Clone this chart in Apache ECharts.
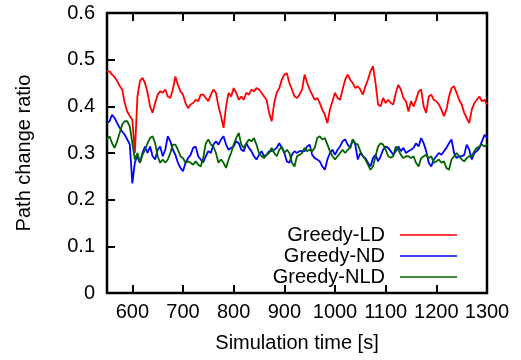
<!DOCTYPE html>
<html>
<head>
<meta charset="utf-8">
<script src="https://cdn.jsdelivr.net/npm/echarts@6/dist/echarts.min.js"></script>
<style>
html,body{margin:0;padding:0;background:#fff;}
#chart{width:521px;height:360px;}
</style>
</head>
<body>
<div id="chart"></div>
<script>
// Sample times (s), every 5 s
var times = [
 550,555,560,565,570,575,580,585,590,595,
 600,605,610,615,620,625,630,635,640,645,
 650,655,660,665,670,675,680,685,690,695,
 700,705,710,715,720,725,730,735,740,745,
 750,755,760,765,770,775,780,785,790,795,
 800,805,810,815,820,825,830,835,840,845,
 850,855,860,865,870,875,880,885,890,895,
 900,905,910,915,920,925,930,935,940,945,
 950,955,960,965,970,975,980,985,990,995,
 1000,1005,1010,1015,1020,1025,1030,1035,1040,1045,
 1050,1055,1060,1065,1070,1075,1080,1085,1090,1095,
 1100,1105,1110,1115,1120,1125,1130,1135,1140,1145,
 1150,1155,1160,1165,1170,1175,1180,1185,1190,1195,
 1200,1205,1210,1215,1220,1225,1230,1235,1240,1245,
 1250,1255,1260,1265,1270,1275,1280,1285,1290,1295,
 1300];

var greedyLD = [
 0.475,0.475,0.468,0.463,0.454,0.444,0.436,0.407,0.389,0.379,
 0.371,0.300,0.420,0.454,0.461,0.450,0.429,0.400,0.386,0.407,
 0.425,0.432,0.429,0.436,0.421,0.418,0.436,0.464,0.446,0.432,
 0.425,0.407,0.396,0.404,0.407,0.414,0.411,0.425,0.425,0.418,
 0.411,0.425,0.436,0.429,0.400,0.379,0.354,0.400,0.429,0.421,
 0.439,0.429,0.414,0.421,0.414,0.429,0.425,0.436,0.432,0.439,
 0.436,0.429,0.421,0.414,0.386,0.368,0.407,0.429,0.439,0.457,
 0.468,0.471,0.450,0.436,0.421,0.418,0.425,0.436,0.468,0.450,
 0.436,0.425,0.414,0.418,0.407,0.393,0.382,0.364,0.393,0.411,
 0.429,0.418,0.414,0.436,0.457,0.468,0.457,0.450,0.439,0.443,
 0.436,0.425,0.443,0.457,0.475,0.486,0.450,0.404,0.400,0.418,
 0.407,0.414,0.407,0.404,0.429,0.446,0.436,0.418,0.411,0.389,
 0.411,0.400,0.414,0.432,0.436,0.400,0.386,0.421,0.425,0.414,
 0.411,0.404,0.393,0.379,0.393,0.421,0.439,0.443,0.429,0.414,
 0.404,0.386,0.375,0.364,0.393,0.407,0.414,0.421,0.411,0.414,
 0.404];

var greedyND = [
 0.364,0.368,0.382,0.375,0.364,0.354,0.346,0.339,0.329,0.318,
 0.235,0.280,0.293,0.279,0.300,0.314,0.300,0.314,0.293,0.286,
 0.307,0.314,0.293,0.307,0.336,0.325,0.307,0.296,0.279,0.268,
 0.261,0.279,0.289,0.296,0.311,0.314,0.293,0.286,0.280,0.293,
 0.304,0.300,0.318,0.325,0.318,0.329,0.336,0.318,0.307,0.311,
 0.314,0.325,0.321,0.307,0.304,0.321,0.311,0.304,0.293,0.286,
 0.296,0.304,0.293,0.296,0.304,0.304,0.307,0.311,0.321,0.311,
 0.300,0.282,0.279,0.296,0.304,0.300,0.304,0.304,0.304,0.314,
 0.318,0.296,0.289,0.286,0.282,0.271,0.264,0.286,0.300,0.307,
 0.296,0.307,0.314,0.325,0.329,0.318,0.311,0.329,0.318,0.286,
 0.300,0.293,0.289,0.279,0.271,0.289,0.296,0.282,0.293,0.307,
 0.314,0.311,0.304,0.296,0.304,0.314,0.304,0.311,0.300,0.304,
 0.307,0.311,0.321,0.314,0.332,0.321,0.304,0.279,0.271,0.286,
 0.293,0.300,0.296,0.304,0.311,0.321,0.329,0.300,0.289,0.293,
 0.293,0.296,0.318,0.307,0.286,0.300,0.304,0.311,0.325,0.339,
 0.332];

var greedyNLD = [
 0.329,0.336,0.321,0.311,0.325,0.343,0.361,0.368,0.368,0.357,
 0.321,0.286,0.300,0.279,0.296,0.307,0.321,0.332,0.336,0.321,
 0.293,0.279,0.286,0.279,0.286,0.300,0.318,0.318,0.307,0.293,
 0.289,0.279,0.282,0.279,0.275,0.282,0.275,0.271,0.290,0.321,
 0.329,0.318,0.314,0.300,0.279,0.286,0.279,0.268,0.286,0.300,
 0.318,0.332,0.343,0.318,0.311,0.321,0.329,0.325,0.332,0.318,
 0.300,0.293,0.289,0.296,0.300,0.311,0.300,0.293,0.307,0.314,
 0.300,0.307,0.300,0.279,0.271,0.293,0.296,0.300,0.311,0.304,
 0.307,0.304,0.311,0.332,0.336,0.329,0.332,0.318,0.304,0.293,
 0.286,0.293,0.300,0.307,0.300,0.307,0.311,0.329,0.321,0.318,
 0.304,0.293,0.286,0.275,0.264,0.271,0.293,0.314,0.321,0.318,
 0.307,0.293,0.290,0.293,0.314,0.307,0.296,0.289,0.293,0.293,
 0.289,0.293,0.279,0.271,0.289,0.293,0.296,0.289,0.293,0.279,
 0.282,0.286,0.279,0.282,0.268,0.264,0.286,0.293,0.300,0.293,
 0.286,0.282,0.289,0.293,0.293,0.304,0.311,0.314,0.318,0.314,
 0.318];

var xTicks = [600, 700, 800, 900, 1000, 1100, 1200, 1300];
var seriesNames = ['Greedy-LD', 'Greedy-ND', 'Greedy-NLD'];
var seriesColors = ['#ff0000', '#0000ff', '#006400'];

function pairs(vals) {
  var out = [];
  for (var i = 0; i < times.length; i++) out.push([times[i], vals[i]]);
  return out;
}

var FONT = '"Liberation Sans", Arial, Helvetica, sans-serif';
var chart = echarts.init(document.getElementById('chart'), null, {renderer: 'canvas'});

var allVals = [greedyLD, greedyND, greedyNLD];
var series = seriesNames.map(function (n, i) {
  return {
    name: n, type: 'line', xAxisIndex: 0, yAxisIndex: 0,
    data: pairs(allVals[i]), symbol: 'none', smooth: false,
    lineStyle: {color: seriesColors[i], width: 1.8},
    itemStyle: {color: seriesColors[i]}
  };
});

chart.setOption({
  animation: false,
  backgroundColor: '#ffffff',
  textStyle: {fontFamily: FONT},
  grid: {left: 107, right: 34, top: 13, bottom: 67, show: true, borderColor: '#000', borderWidth: 2.5, backgroundColor: 'transparent'},
  legend: {
    orient: 'vertical', right: 59, top: 220, align: 'right',
    itemWidth: 57, itemHeight: 14, itemGap: 1,
    textStyle: {fontSize: 20, color: '#000', fontFamily: FONT, padding: [0, 10, 0, 0]},
    data: seriesNames.map(function (n) { return {name: n, icon: 'path://M0,7 L57,7 L57,8.5 L0,8.5 Z'}; })
  },
  xAxis: [{
    type: 'value', position: 'bottom', min: 550, max: 1300,
    name: 'Simulation time [s]', nameLocation: 'middle', nameGap: 40,
    nameTextStyle: {fontSize: 20, color: '#000', fontFamily: FONT},
    axisLine: {show: false},
    axisTick: {show: true, inside: true, length: 8, customValues: xTicks, lineStyle: {color: '#000', width: 2}},
    axisLabel: {fontSize: 20, color: '#000', margin: 9, fontFamily: FONT, customValues: xTicks,
      formatter: function (v) { return String(v); }},
    splitLine: {show: false}
  }, {
    type: 'value', position: 'top', min: 550, max: 1300,
    axisLine: {show: false},
    axisTick: {show: true, inside: true, length: 8, customValues: xTicks, lineStyle: {color: '#000', width: 2}},
    axisLabel: {show: false, customValues: xTicks},
    splitLine: {show: false}
  }],
  yAxis: [{
    type: 'value', min: 0, max: 0.6, interval: 0.1,
    name: 'Path change ratio', nameLocation: 'middle', nameGap: 73,
    nameTextStyle: {fontSize: 20, color: '#000', fontFamily: FONT},
    axisLine: {show: false},
    axisTick: {show: true, inside: true, length: 8, lineStyle: {color: '#000', width: 2}},
    axisLabel: {fontSize: 20, color: '#000', margin: 12, fontFamily: FONT},
    splitLine: {show: false}
  }],
  series: series
});
</script>
</body>
</html>
